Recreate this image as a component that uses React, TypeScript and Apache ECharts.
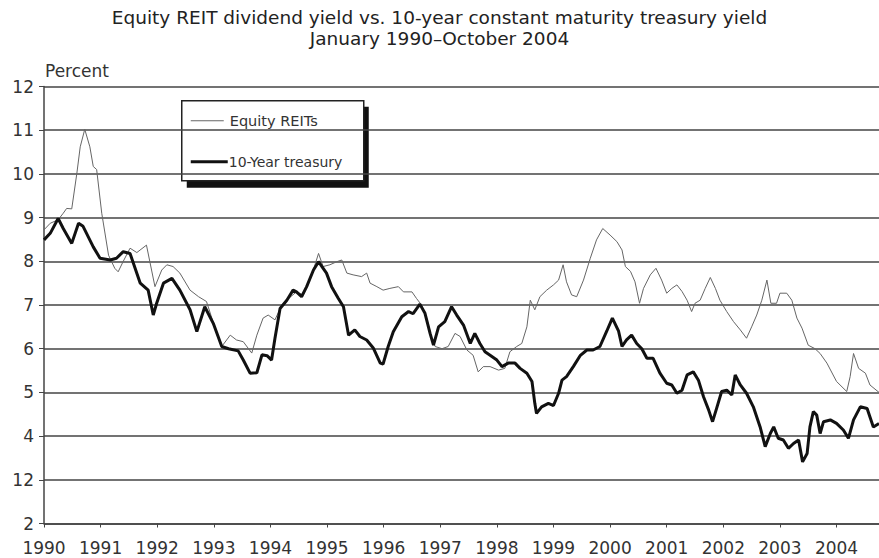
import React, { useEffect, useRef } from "react";
import * as echarts from "echarts";

const titleLines = [
  "Equity REIT dividend yield vs. 10-year constant maturity treasury yield",
  "January 1990\u2013October 2004",
];
const yAxisName = "Percent";
const seriesNames = ["Equity REITs", "10-Year treasury"];
const yearTicks = [1990, 1991, 1992, 1993, 1994, 1995, 1996, 1997, 1998, 1999, 2000, 2001, 2002, 2003, 2004];
// tick labels as printed (the scan shows "12" at the 3 line)
const yTickValues = [2, 3, 4, 5, 6, 7, 8, 9, 10, 11, 12];
const yTickLabels = ["2", "12", "4", "5", "6", "7", "8", "9", "10", "11", "12"];

const reitDates = [
  1990.0, 1990.11, 1990.25, 1990.34, 1990.4, 1990.49, 1990.58, 1990.64, 1990.72, 1990.81, 1990.87, 1990.93,
  1991.02, 1991.14, 1991.25, 1991.31, 1991.4, 1991.52, 1991.64, 1991.81, 1991.96, 1992.08, 1992.17, 1992.28,
  1992.4, 1992.58, 1992.73, 1992.87, 1992.99, 1993.14, 1993.29, 1993.4, 1993.52, 1993.67, 1993.76, 1993.87,
  1993.96, 1994.08, 1994.2, 1994.32, 1994.46, 1994.58, 1994.73, 1994.85, 1994.93, 1995.05, 1995.17, 1995.26,
  1995.35, 1995.46, 1995.61, 1995.7, 1995.76, 1995.88, 1995.99, 1996.11, 1996.26, 1996.35, 1996.5, 1996.58,
  1996.67, 1996.76, 1996.85, 1996.91, 1997.03, 1997.14, 1997.26, 1997.35, 1997.47, 1997.58, 1997.67, 1997.76,
  1997.88, 1998.03, 1998.14, 1998.23, 1998.35, 1998.44, 1998.53, 1998.59, 1998.67, 1998.76, 1998.88, 1999.0,
  1999.09, 1999.17, 1999.23, 1999.32, 1999.41, 1999.53, 1999.65, 1999.76, 1999.87, 2000.0, 2000.12, 2000.21,
  2000.27, 2000.36, 2000.44, 2000.52, 2000.59, 2000.71, 2000.81, 2000.91, 2001.0, 2001.09, 2001.18, 2001.27,
  2001.36, 2001.44, 2001.5, 2001.59, 2001.68, 2001.77, 2001.86, 2001.94, 2002.06, 2002.18, 2002.3, 2002.41,
  2002.5, 2002.59, 2002.68, 2002.77, 2002.84, 2002.94, 2003.0, 2003.12, 2003.21, 2003.3, 2003.39, 2003.5,
  2003.62, 2003.71, 2003.83, 2004.0, 2004.18, 2004.24, 2004.3, 2004.39, 2004.51, 2004.59, 2004.75,
];
const reitValues = [
  8.72, 8.87, 8.95, 9.1, 9.21, 9.2, 10.01, 10.62, 11.02, 10.62, 10.17, 10.1,
  9.1, 8.14, 7.84, 7.76, 8.0, 8.3, 8.2, 8.37, 7.42, 7.8, 7.92, 7.88,
  7.73, 7.34, 7.19, 7.08, 6.6, 6.05, 6.31, 6.2, 6.16, 5.9, 6.31, 6.7,
  6.77, 6.66, 7.0, 7.15, 7.3, 7.23, 7.69, 8.18, 7.88, 7.92, 7.99, 8.03,
  7.73, 7.69, 7.65, 7.73, 7.5, 7.42, 7.34, 7.38, 7.42, 7.3, 7.3, 7.15,
  7.0, 6.7, 6.24, 6.05, 6.0, 6.05, 6.35, 6.28, 5.97, 5.85, 5.47, 5.59,
  5.59, 5.51, 5.55, 5.93, 6.05, 6.12, 6.5, 7.11, 6.89, 7.19, 7.34, 7.46,
  7.57, 7.92, 7.53, 7.23, 7.19, 7.57, 8.07, 8.49, 8.75, 8.6, 8.45, 8.26,
  7.88, 7.77, 7.53, 7.04, 7.38, 7.69, 7.84, 7.57, 7.27, 7.38, 7.46, 7.31,
  7.11, 6.85, 7.04, 7.11, 7.38, 7.63, 7.38, 7.11, 6.85, 6.62, 6.43, 6.24,
  6.5, 6.77, 7.11, 7.57, 7.04, 7.04, 7.27, 7.27, 7.11, 6.7, 6.47, 6.08,
  6.0, 5.89, 5.67, 5.25, 5.02, 5.36, 5.89, 5.55, 5.44, 5.17, 5.0,
];

const treasuryDates = [
  1990.0, 1990.11, 1990.25, 1990.34, 1990.49, 1990.61, 1990.69, 1990.87, 1990.99, 1991.17, 1991.28, 1991.4,
  1991.52, 1991.7, 1991.84, 1991.93, 1991.99, 1992.11, 1992.26, 1992.4, 1992.58, 1992.7, 1992.84, 1992.99,
  1993.14, 1993.26, 1993.43, 1993.52, 1993.64, 1993.76, 1993.85, 1993.94, 1994.02, 1994.08, 1994.17, 1994.29,
  1994.4, 1994.46, 1994.55, 1994.64, 1994.76, 1994.85, 1994.91, 1994.99, 1995.08, 1995.2, 1995.29, 1995.38,
  1995.49, 1995.58, 1995.7, 1995.82, 1995.94, 1995.99, 1996.08, 1996.17, 1996.32, 1996.44, 1996.52, 1996.64,
  1996.73, 1996.82, 1996.88, 1996.97, 1997.08, 1997.2, 1997.29, 1997.41, 1997.53, 1997.61, 1997.7, 1997.79,
  1997.88, 1998.0, 1998.09, 1998.2, 1998.32, 1998.41, 1998.53, 1998.62, 1998.67, 1998.7, 1998.79, 1998.91,
  1999.0, 1999.09, 1999.15, 1999.23, 1999.35, 1999.47, 1999.59, 1999.7, 1999.82, 1999.94, 2000.04, 2000.15,
  2000.21, 2000.29, 2000.38, 2000.47, 2000.56, 2000.65, 2000.76, 2000.88, 2001.0, 2001.09, 2001.18, 2001.27,
  2001.36, 2001.47, 2001.56, 2001.65, 2001.74, 2001.81, 2001.88, 2001.97, 2002.06, 2002.15, 2002.21, 2002.3,
  2002.41, 2002.53, 2002.65, 2002.74, 2002.83, 2002.89, 2002.97, 2003.06, 2003.15, 2003.24, 2003.33, 2003.4,
  2003.48, 2003.53, 2003.59, 2003.65, 2003.71, 2003.77, 2003.89, 2004.0, 2004.12, 2004.21, 2004.3, 2004.42,
  2004.54, 2004.65, 2004.75,
];
const treasuryValues = [
  8.49, 8.64, 8.98, 8.75, 8.41, 8.87, 8.8, 8.33, 8.07, 8.03, 8.07, 8.22,
  8.18, 7.5, 7.34, 6.77, 7.04, 7.5, 7.61, 7.34, 6.89, 6.39, 6.96, 6.58,
  6.05, 6.0, 5.95, 5.74, 5.44, 5.45, 5.86, 5.84, 5.74, 6.24, 6.92, 7.11,
  7.34, 7.3, 7.19, 7.42, 7.8, 7.99, 7.88, 7.73, 7.42, 7.15, 6.96, 6.31,
  6.43, 6.28, 6.2, 6.01, 5.67, 5.65, 6.05, 6.39, 6.73, 6.85, 6.8, 7.02,
  6.81, 6.35, 6.08, 6.5, 6.62, 6.96, 6.77, 6.54, 6.12, 6.35, 6.12, 5.93,
  5.85, 5.74, 5.59, 5.67, 5.67, 5.55, 5.44, 5.25, 4.75, 4.52, 4.67, 4.75,
  4.7, 4.98, 5.28, 5.36, 5.59, 5.84, 5.97, 5.97, 6.05, 6.4, 6.7, 6.4,
  6.05, 6.2, 6.31, 6.12, 6.0, 5.78, 5.78, 5.44, 5.21, 5.17, 4.98, 5.05,
  5.4, 5.47, 5.28, 4.9, 4.6, 4.33, 4.63, 5.02, 5.05, 4.94, 5.4, 5.17,
  4.98, 4.67, 4.21, 3.76, 4.06, 4.21, 3.95, 3.91, 3.72, 3.83, 3.91, 3.41,
  3.6, 4.21, 4.56, 4.48, 4.06, 4.33, 4.37, 4.29, 4.14, 3.95, 4.37, 4.67,
  4.63, 4.21, 4.29,
];

const FONT = "DejaVu Sans";

export default function App() {
  const ref = useRef<HTMLDivElement>(null);
  useEffect(() => {
    if (!ref.current) return;
    const chart = echarts.init(ref.current, undefined, { renderer: "svg" });
    const reitData = reitDates.map((d, i) => [d, reitValues[i]]);
    const treasuryData = treasuryDates.map((d, i) => [d, treasuryValues[i]]);
    chart.setOption({
      animation: false,
      backgroundColor: "#ffffff",
      title: {
        text: titleLines.join("\n"),
        left: "center",
        top: 2,
        textStyle: { fontFamily: FONT, fontSize: 18.5, fontWeight: "normal", color: "#222", lineHeight: 21 },
      },
      grid: { left: 44, right: 0, top: 86.5, bottom: 34.5, containLabel: false },
      xAxis: {
        type: "value",
        min: yearTicks[0],
        max: 2004.75,
        interval: 1,
        axisLine: { show: true, onZero: false, lineStyle: { color: "#444", width: 1.5 } },
        axisTick: { show: true, length: 4, lineStyle: { color: "#444", width: 1 } },
        splitLine: { show: false },
        axisLabel: {
          showMaxLabel: false,
          margin: 16,
          fontFamily: FONT,
          fontSize: 17,
          color: "#333",
          formatter: (v: number) => (yearTicks.includes(Math.round(v * 100) / 100) ? String(v) : ""),
        },
      },
      yAxis: {
        type: "value",
        min: 2,
        max: 12,
        interval: 1,
        axisLine: { show: true, lineStyle: { color: "#444", width: 1.5 } },
        axisTick: { show: true, length: 5, lineStyle: { color: "#444", width: 1 } },
        splitLine: { show: true, lineStyle: { color: "#444", width: 1.5 } },
        axisLabel: {
          margin: 10,
          fontFamily: FONT,
          fontSize: 17,
          color: "#333",
          formatter: (v: number) => {
            const i = yTickValues.indexOf(v);
            return i >= 0 ? yTickLabels[i] : String(v);
          },
        },
      },
      series: [
        {
          name: seriesNames[0],
          type: "line",
          data: reitData,
          showSymbol: false,
          lineStyle: { color: "#666", width: 1 },
          z: 2,
        },
        {
          name: seriesNames[1],
          type: "line",
          data: treasuryData,
          showSymbol: false,
          lineStyle: { color: "#111", width: 3 },
          z: 3,
        },
      ],
      graphic: [
        {
          type: "text",
          left: 45,
          top: 62,
          style: { text: yAxisName, fontFamily: FONT, fontSize: 17, fill: "#333" },
        },
        {
          type: "group",
          left: 181,
          top: 100,
          z: 100,
          children: [
            { type: "rect", shape: { x: 5, y: 6, width: 182, height: 81 }, style: { fill: "#111" } },
            { type: "rect", shape: { x: 0, y: 0, width: 182, height: 80 }, style: { fill: "#fff", stroke: "#222", lineWidth: 1.5 } },
            { type: "line", shape: { x1: 9, y1: 20, x2: 42, y2: 20 }, style: { stroke: "#666", lineWidth: 1 } },
            { type: "text", x: 48, y: 20, style: { text: seriesNames[0], fontFamily: FONT, fontSize: 14.5, fill: "#333", verticalAlign: "middle" } },
            { type: "line", shape: { x1: 9, y1: 61, x2: 46, y2: 61 }, style: { stroke: "#111", lineWidth: 3 } },
            { type: "text", x: 47, y: 61, style: { text: seriesNames[1], fontFamily: FONT, fontSize: 14, fill: "#333", verticalAlign: "middle" } },
          ],
        },
      ],
    });
    return () => chart.dispose();
  }, []);
  return <div ref={ref} style={{ position: "absolute", left: 0, top: 0, width: 879, height: 558 }} />;
}
